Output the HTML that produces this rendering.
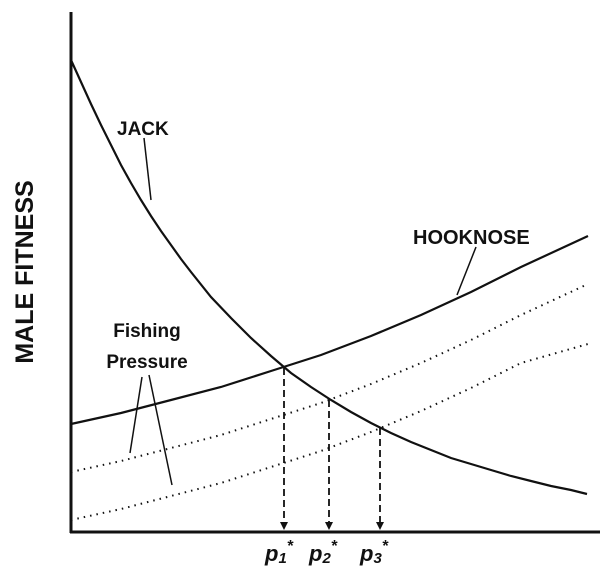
<!DOCTYPE html>
<html><head><style>
html,body{margin:0;padding:0;background:#fff;}
svg{display:block;}
text{font-family:"Liberation Sans",sans-serif;font-weight:bold;fill:#111;}
</style></head><body>
<svg width="600" height="573" viewBox="0 0 600 573">
<g stroke="#111" fill="none">
<line x1="71" y1="12" x2="71" y2="533" stroke-width="3"/>
<line x1="70" y1="532" x2="600" y2="532" stroke-width="3"/>
<path stroke-width="2.2" d="M71,60 L81,82 L91,104 L101,125 L111,145 L121,165 L131,183 L141,200 L151,216 L161,231 L171,245 L181,259 L191,272 L211,297 L231,318 L251,338 L271,356 L291,373 L311,387 L331,400 L351,412 L371,423 L391,433 L411,442 L431,450 L451,458 L471,464 L491,470 L511,476 L531,481 L551,486 L571,490 L587,494"/>
<path id="h" stroke-width="2.2" d="M71,424 L121,413 L171,400 L221,387 L271,371 L321,355 L371,336 L421,315 L471,292 L521,267 L588,236"/>
<path stroke-width="2" stroke-dasharray="1.5 5" transform="translate(0,48)" d="M71,424 L121,413 L171,400 L221,387 L271,371 L321,355 L371,336 L421,315 L471,292 L521,267 L588,236"/>
<path stroke-width="2" stroke-dasharray="1.5 5" transform="translate(0,96)" d="M71,424 L121,413 L171,400 L221,387 L271,371 L321,355 L371,336 L421,315 L471,292 L521,267 L588,248"/>
<line x1="144" y1="138" x2="151" y2="200" stroke-width="1.5"/>
<line x1="476" y1="247" x2="457" y2="295" stroke-width="1.5"/>
<line x1="142" y1="377" x2="130" y2="453" stroke-width="1.5"/>
<line x1="149" y1="375" x2="172" y2="485" stroke-width="1.5"/>
<g stroke-width="1.8" stroke-dasharray="7 4">
<line x1="284" y1="368" x2="284" y2="524"/>
<line x1="329" y1="400" x2="329" y2="524"/>
<line x1="380" y1="428" x2="380" y2="524"/>
</g>
</g>
<g fill="#111">
<path d="M280,522 L288,522 L284,530Z"/>
<path d="M325,522 L333,522 L329,530Z"/>
<path d="M376,522 L384,522 L380,530Z"/>
</g>
<text x="117" y="135" font-size="19">JACK</text>
<text x="413" y="244" font-size="20">HOOKNOSE</text>
<text x="147" y="337" font-size="19" text-anchor="middle">Fishing</text>
<text x="147" y="368" font-size="19" text-anchor="middle">Pressure</text>
<text transform="translate(33,272) rotate(-90)" font-size="25" text-anchor="middle">MALE FITNESS</text>
<g font-size="22" font-style="italic">
<text x="265" y="561">p<tspan font-size="15" dy="2">1</tspan><tspan dy="-12" font-size="16">*</tspan></text>
<text x="309" y="561">p<tspan font-size="15" dy="2">2</tspan><tspan dy="-12" font-size="16">*</tspan></text>
<text x="360" y="561">p<tspan font-size="15" dy="2">3</tspan><tspan dy="-12" font-size="16">*</tspan></text>
</g>
</svg>
</body></html>
